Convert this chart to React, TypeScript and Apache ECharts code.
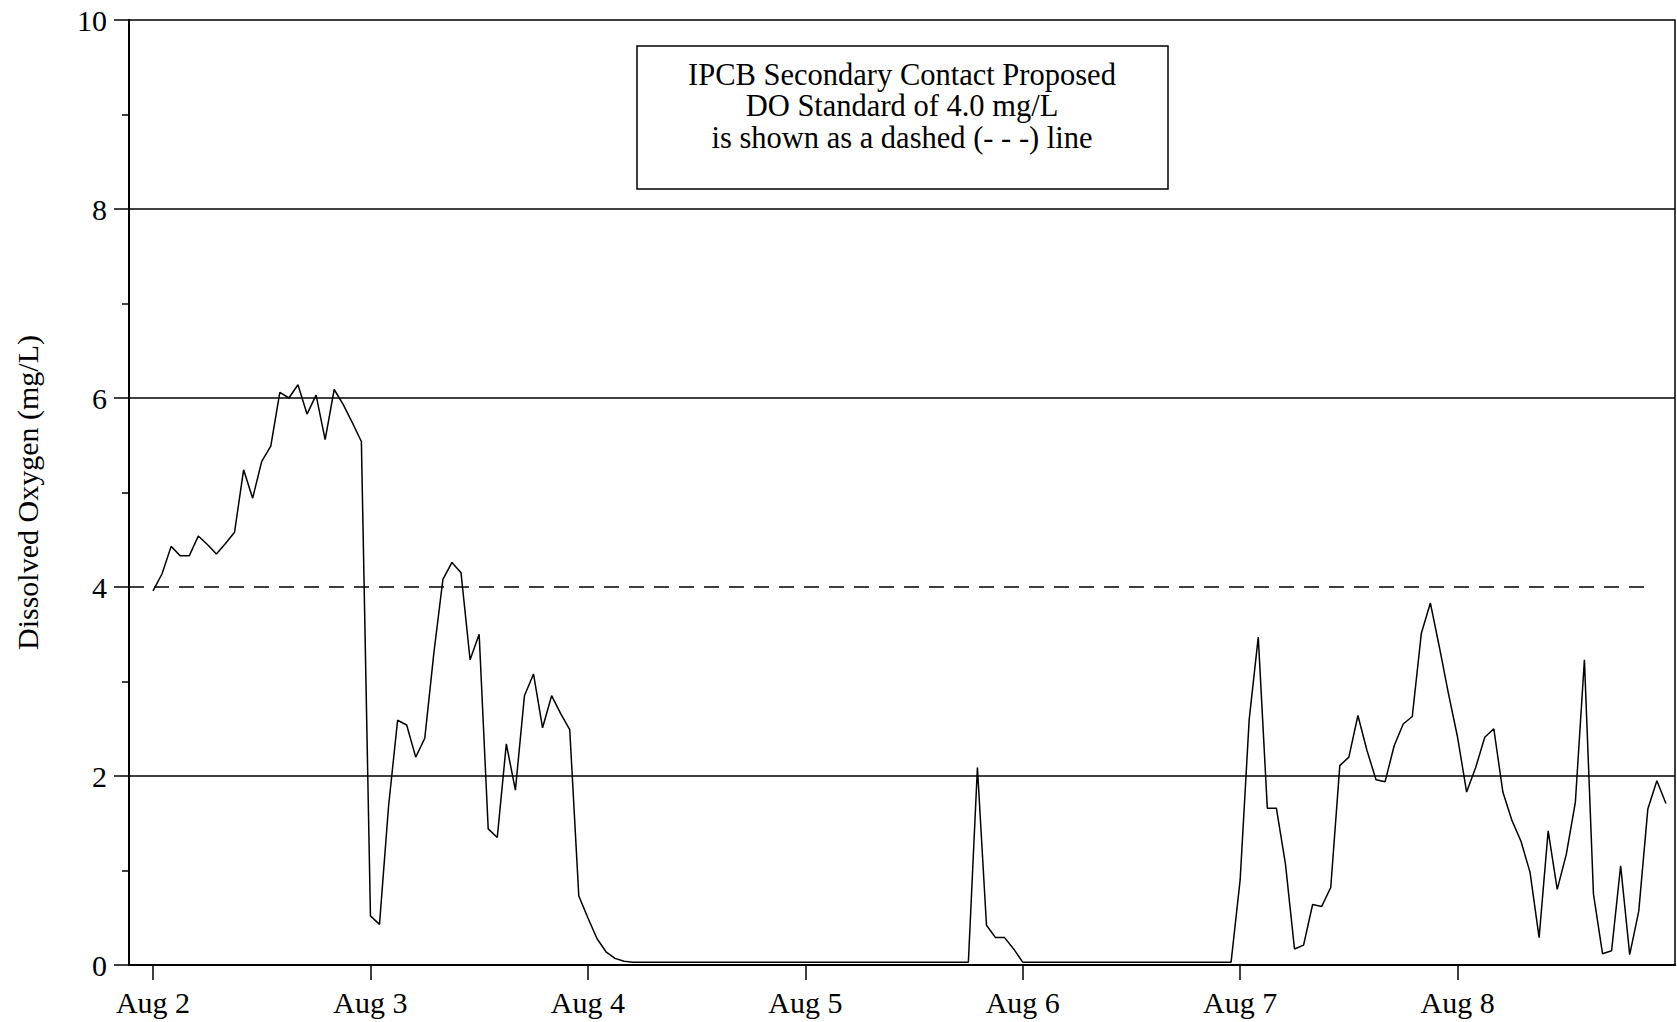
import React, { useEffect, useRef } from "react";
import * as echarts from "echarts";

// Hourly dissolved oxygen readings (mg/L), one array per day, 00:00 .. 23:00
const aug2 = [3.96, 4.14, 4.43, 4.33, 4.33, 4.54, 4.45, 4.35, 4.46, 4.58, 5.24, 4.94, 5.33, 5.49, 6.06, 6.0, 6.14, 5.83, 6.03, 5.56, 6.09, 5.93, 5.74, 5.54];
const aug3 = [0.52, 0.43, 1.68, 2.59, 2.54, 2.2, 2.4, 3.3, 4.08, 4.26, 4.15, 3.23, 3.5, 1.44, 1.35, 2.34, 1.85, 2.85, 3.08, 2.51, 2.85, 2.66, 2.49, 0.73];
const aug4 = [0.5, 0.28, 0.14, 0.07, 0.04, 0.03, 0.03, 0.03, 0.03, 0.03, 0.03, 0.03, 0.03, 0.03, 0.03, 0.03, 0.03, 0.03, 0.03, 0.03, 0.03, 0.03, 0.03, 0.03];
const aug5 = [0.03, 0.03, 0.03, 0.03, 0.03, 0.03, 0.03, 0.03, 0.03, 0.03, 0.03, 0.03, 0.03, 0.03, 0.03, 0.03, 0.03, 0.03, 0.03, 2.09, 0.42, 0.29, 0.29, 0.17];
const aug6 = [0.03, 0.03, 0.03, 0.03, 0.03, 0.03, 0.03, 0.03, 0.03, 0.03, 0.03, 0.03, 0.03, 0.03, 0.03, 0.03, 0.03, 0.03, 0.03, 0.03, 0.03, 0.03, 0.03, 0.03];
const aug7 = [0.9, 2.6, 3.47, 1.66, 1.66, 1.07, 0.17, 0.21, 0.64, 0.62, 0.82, 2.11, 2.2, 2.64, 2.27, 1.96, 1.94, 2.32, 2.55, 2.63, 3.51, 3.83, 3.36, 2.87];
const aug8 = [2.41, 1.83, 2.09, 2.41, 2.5, 1.83, 1.53, 1.31, 0.98, 0.29, 1.42, 0.8, 1.17, 1.72, 3.23, 0.75, 0.12, 0.15, 1.05, 0.11, 0.57, 1.65, 1.95, 1.71];

// x axis: hours since Aug 2 00:00
const dayTickHours = [0, 24, 48, 72, 96, 120, 144];
const dayLabels = ["Aug 2", "Aug 3", "Aug 4", "Aug 5", "Aug 6", "Aug 7", "Aug 8"];
const xMin = -2.65;
const xMax = 168;

// reference lines
const gridValues = [2, 6, 8];
const standardValue = 4.0;
const standardEndHour = 165;

const boxLines = [
  "IPCB Secondary Contact Proposed",
  "DO Standard of 4.0 mg/L",
  "is shown as a dashed (- - -) line",
];
const yTitle = "Dissolved Oxygen (mg/L)";

const FONT = '"Liberation Serif", "Times New Roman", serif';

export default function App() {
  const ref = useRef<HTMLDivElement>(null);

  useEffect(() => {
    if (!ref.current) return;
    const chart = echarts.init(ref.current, null, { renderer: "svg" });
    const values = [...aug2, ...aug3, ...aug4, ...aug5, ...aug6, ...aug7, ...aug8];
    const data = values.map((v, i) => [i, v]);

    const option: any = {
      animation: false,
      backgroundColor: "#ffffff",
      textStyle: { fontFamily: FONT, color: "#000" },
      grid: {
        left: 129,
        right: 2,
        top: 20,
        bottom: 57,
        show: true,
        borderColor: "#000",
        borderWidth: 1.5,
        backgroundColor: "transparent",
      },
      xAxis: {
        type: "value",
        min: xMin,
        max: xMax,
        axisLine: { show: true, onZero: false, lineStyle: { color: "#000", width: 2 } },
        axisTick: {
          show: true,
          customValues: dayTickHours,
          length: 15,
          lineStyle: { color: "#000", width: 1.5 },
        },
        axisLabel: {
          show: true,
          customValues: dayTickHours,
          formatter: (v: number) => {
            const idx = dayTickHours.indexOf(Math.round(v));
            return idx >= 0 ? dayLabels[idx] : "";
          },
          fontFamily: FONT,
          fontSize: 30,
          color: "#000",
          margin: 22,
        },
        splitLine: { show: false },
      },
      yAxis: {
        type: "value",
        min: 0,
        max: 10,
        interval: 2,
        name: yTitle,
        nameLocation: "middle",
        nameGap: 87,
        nameTextStyle: { fontFamily: FONT, fontSize: 30, color: "#000" },
        axisLine: { show: true, onZero: false, lineStyle: { color: "#000", width: 2 } },
        axisTick: { show: true, length: 15, lineStyle: { color: "#000", width: 1.5 } },
        minorTick: { show: true, splitNumber: 2, length: 7, lineStyle: { color: "#000", width: 1.5 } },
        axisLabel: { fontFamily: FONT, fontSize: 30, color: "#000", margin: 22 },
        splitLine: { show: false },
        minorSplitLine: { show: false },
      },
      series: [
        {
          type: "line",
          data,
          showSymbol: false,
          symbol: "none",
          lineStyle: { color: "#000", width: 1.5 },
          silent: true,
          markLine: {
            silent: true,
            symbol: ["none", "none"],
            label: { show: false },
            data: [
              ...gridValues.map((v) => ({
                yAxis: v,
                lineStyle: { color: "#000", width: 1.5, type: "solid" },
              })),
              [
                { coord: [xMin, standardValue], lineStyle: { color: "#000", width: 1.5, type: [15, 10] } },
                { coord: [standardEndHour, standardValue] },
              ],
            ],
          },
        },
      ],
      graphic: [
        {
          type: "rect",
          shape: { x: 637, y: 46, width: 531, height: 143 },
          style: { fill: "#fff", stroke: "#000", lineWidth: 1.5 },
          z: 10,
        },
        {
          type: "text",
          x: 902,
          y: 59,
          z: 11,
          style: {
            text: boxLines.join("\n"),
            fontFamily: FONT,
            fontSize: 30.5,
            lineHeight: 31.5,
            fill: "#000",
            align: "center",
            verticalAlign: "top",
          },
        },
      ],
    };

    chart.setOption(option);
    return () => chart.dispose();
  }, []);

  return (
    <div
      ref={ref}
      style={{ position: "fixed", left: 0, top: 0, width: 1677, height: 1022, background: "#fff" }}
    />
  );
}
